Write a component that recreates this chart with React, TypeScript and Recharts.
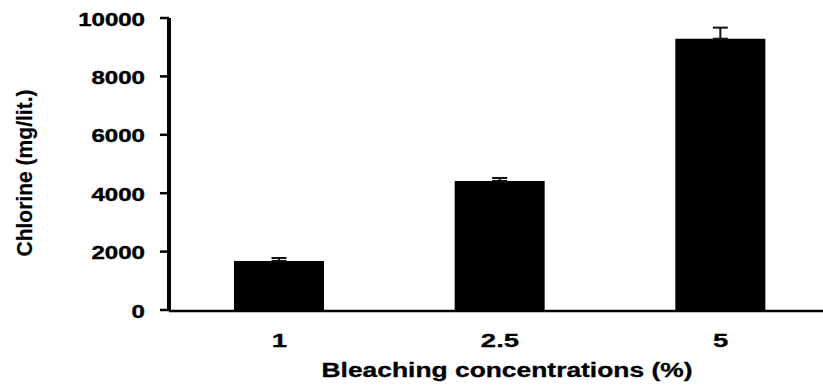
import React from "react";
import { BarChart, Bar, XAxis, YAxis, ErrorBar } from "recharts";

const categories = ["1", "2.5", "5"];
const chlorine = [1680, 4420, 9290];
const chlorineErr = [100, 100, 380];
const yTicks = [0, 2000, 4000, 6000, 8000, 10000];
const boundaryTicks = [0, 1, 2, 3];

const data = categories.map((c, i) => ({
  name: c,
  value: chlorine[i],
  err: [0, chlorineErr[i]],
}));

const FONT = "'Liberation Sans', Arial, Helvetica, sans-serif";

const charW = (s: string) =>
  s.split("").reduce((a, c) => a + (c === "." ? 0.278 : 0.556), 0);

const YTick = (props: any) => {
  const { x, y, payload } = props;
  const s = String(payload.value);
  const fs = 18.5;
  return (
    <text
      x={x}
      y={y}
      dy={7.5}
      textAnchor="end"
      fontFamily={FONT}
      fontWeight={700}
      fontSize={fs}
      fill="#000"
      stroke="#000"
      strokeWidth={0.4}
      textLength={charW(s) * fs * 1.3}
      lengthAdjust="spacingAndGlyphs"
    >
      {s}
    </text>
  );
};

const XTick = (props: any) => {
  const { x, y, payload } = props;
  const s = String(payload.value);
  const fs = 19;
  return (
    <text
      x={x}
      y={y}
      dy={37}
      textAnchor="middle"
      fontFamily={FONT}
      fontWeight={700}
      fontSize={fs}
      fill="#000"
      stroke="#000"
      strokeWidth={0.3}
      textLength={charW(s) * fs * 1.45}
      lengthAdjust="spacingAndGlyphs"
    >
      {s}
    </text>
  );
};

const XTitle = () => (
  <text
    x={507}
    y={377}
    textAnchor="middle"
    fontFamily={FONT}
    fontWeight={700}
    fontSize={19.5}
    fill="#000"
    stroke="#000"
    strokeWidth={0.3}
    textLength={371}
    lengthAdjust="spacingAndGlyphs"
  >
    Bleaching concentrations (%)
  </text>
);

const YTitle = () => (
  <text
    x={32}
    y={173}
    transform="rotate(-90, 32, 173)"
    textAnchor="middle"
    fontFamily={FONT}
    fontWeight={700}
    fontSize={22}
    fill="#000"
    stroke="#000"
    strokeWidth={0.2}
    textLength={167}
    lengthAdjust="spacingAndGlyphs"
  >
    Chlorine (mg/lit.)
  </text>
);

export default function App() {
  return (
    <div
      style={{
        position: "absolute",
        left: 0,
        top: 0,
        width: 823,
        height: 387,
        overflow: "hidden",
        background: "#fff",
      }}
    >
      <BarChart
        width={842}
        height={387}
        data={data}
        margin={{ top: 18, right: 11, bottom: 75, left: 0 }}
      >
        <XAxis
          xAxisId="cat"
          dataKey="name"
          type="category"
          height={1}
          axisLine={false}
          tickLine={false}
          tickSize={0}
          tickMargin={0}
          interval={0}
          tick={(p: any) => <XTick {...p} />}
          label={() => <XTitle />}
        />
        <XAxis
          xAxisId="edge"
          type="number"
          domain={[0, 3]}
          ticks={boundaryTicks}
          allowDataOverflow
          interval={0}
          height={1}
          tick={false}
          tickSize={4}
          stroke="#000"
          axisLine={{ stroke: "#000", strokeWidth: 2.5 }}
          tickLine={{ stroke: "#000", strokeWidth: 2.5 }}
        />
        <YAxis
          width={169}
          domain={[0, 10000]}
          ticks={yTicks}
          interval={0}
          tickSize={9}
          tickMargin={15}
          stroke="#000"
          axisLine={{ stroke: "#000", strokeWidth: 4 }}
          tickLine={{ stroke: "#000", strokeWidth: 2.5 }}
          tick={(p: any) => <YTick {...p} />}
          label={() => <YTitle />}
        />
        <Bar
          xAxisId="cat"
          dataKey="value"
          fill="#000"
          barSize={90}
          isAnimationActive={false}
        >
          <ErrorBar
            dataKey="err"
            direction="y"
            width={7.5}
            stroke="#111"
            strokeWidth={2}
            isAnimationActive={false}
          />
        </Bar>
      </BarChart>
    </div>
  );
}
